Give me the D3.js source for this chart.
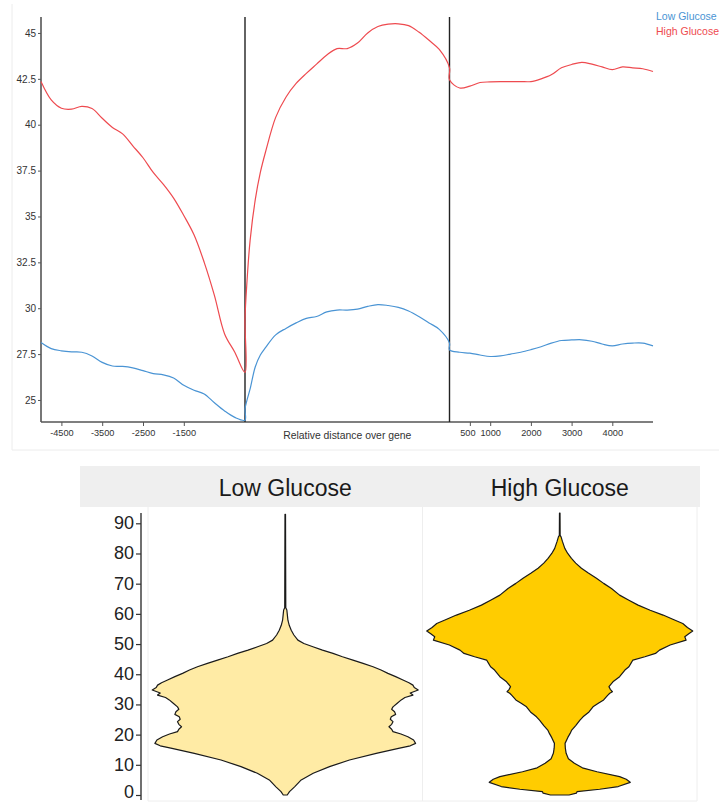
<!DOCTYPE html>
<html>
<head>
<meta charset="utf-8">
<script src="https://cdn.jsdelivr.net/npm/d3@7/dist/d3.min.js"></script>
<style>
  html, body { margin: 0; padding: 0; background: #fff; }
  svg { display: block; }
</style>
</head>
<body>
<svg id="chart" width="719" height="803"></svg>
<script>
// ---- Metagene profile (top) ----
const seriesNames = ["Low Glucose", "High Glucose"];
const seriesColors = ["#4a94d4", "#ee4a4f"];

const upstreamBp = [-5000, -4750, -4500, -4250, -4000, -3750, -3500, -3250, -3000, -2750,
  -2500, -2250, -2000, -1750, -1500, -1250, -1000, -750, -500, -250, 0];
const lowUpstream = [28.13, 27.8, 27.68, 27.62, 27.6, 27.4, 27.05, 26.85, 26.83, 26.75,
  26.6, 26.44, 26.37, 26.2, 25.8, 25.53, 25.33, 24.85, 24.4, 24.05, 23.9];
const highUpstream = [42.35, 41.35, 40.9, 40.85, 41.0, 40.88, 40.35, 39.85, 39.5, 38.85,
  38.2, 37.4, 36.75, 36.0, 35.05, 34.0, 32.5, 30.7, 28.6, 27.6, 26.5];

const bodyFraction = [0, 0.01, 0.025, 0.05, 0.075, 0.1, 0.15, 0.2, 0.25, 0.3, 0.35, 0.4,
  0.45, 0.5, 0.55, 0.6, 0.65, 0.7, 0.75, 0.8, 0.85, 0.9, 0.95, 1.0];
const lowBody = [24.5, 25.0, 25.6, 26.8, 27.45, 27.85, 28.55, 28.9, 29.2, 29.45, 29.55, 29.8,
  29.9, 29.9, 29.95, 30.1, 30.2, 30.15, 30.05, 29.85, 29.55, 29.2, 28.85, 28.1];
const highBody = [29.4, 31.5, 33.7, 35.9, 37.4, 38.5, 40.4, 41.5, 42.25, 42.8, 43.3, 43.8,
  44.15, 44.15, 44.45, 45.0, 45.35, 45.48, 45.5, 45.4, 45.05, 44.6, 44.1, 43.1];

const downstreamBp = [0, 250, 500, 750, 1000, 1250, 1500, 1750, 2000, 2250, 2500, 2750,
  3000, 3250, 3500, 3750, 4000, 4250, 4500, 4750, 5000];
const lowDownstream = [27.73, 27.6, 27.55, 27.45, 27.37, 27.4, 27.5, 27.6, 27.74, 27.9, 28.1,
  28.24, 28.27, 28.28, 28.2, 28.05, 27.95, 28.05, 28.1, 28.1, 27.95];
const highDownstream = [42.45, 42.0, 42.1, 42.3, 42.33, 42.35, 42.35, 42.35, 42.35, 42.5, 42.72,
  43.1, 43.28, 43.4, 43.3, 43.15, 43.0, 43.15, 43.1, 43.05, 42.9];

const profileYTicks = [25, 27.5, 30, 32.5, 35, 37.5, 40, 42.5, 45];
const upstreamTicks = [-4500, -3500, -2500, -1500];
const downstreamTicks = [500, 1000, 2000, 3000, 4000];
const geneBodyLabel = "Relative distance over gene";

// ---- Violin plot (bottom) ----
const groups = ["Low Glucose", "High Glucose"];
const groupFills = ["#ffeba5", "#ffcc00"];
const violinYTicks = [0, 10, 20, 30, 40, 50, 60, 70, 80, 90];

const lowLevels = [0, 1.1, 2.7, 5.0, 7.2, 9.4, 11.6, 13.8, 15.5, 16.3, 17.1, 18.2, 19.3, 20.2, 21.0,
  21.8, 22.6, 23.4, 24.3, 25.1, 25.9, 26.7, 27.6, 28.4, 29.2, 30.3, 31.5, 32.3, 33.1, 33.8, 34.8,
  35.6, 36.4, 37.2, 38.1, 39.2, 40.3, 41.4, 42.5, 43.6, 44.7, 45.8, 46.9, 48.0, 49.1, 50.2, 51.3,
  53.0, 54.6, 56.2, 57.9, 59.6, 61.3, 62.0, 93.0];
const lowDensity = [0.015, 0.032, 0.07, 0.12, 0.21, 0.333, 0.483, 0.684, 0.86, 0.94, 0.98, 0.965,
  0.922, 0.87, 0.81, 0.8, 0.78, 0.8, 0.81, 0.79, 0.797, 0.83, 0.822, 0.8, 0.81, 0.84, 0.872, 0.9,
  0.96, 0.94, 1.0, 0.97, 0.96, 0.93, 0.885, 0.83, 0.772, 0.72, 0.66, 0.585, 0.509, 0.43, 0.359,
  0.28, 0.208, 0.14, 0.095, 0.065, 0.045, 0.03, 0.02, 0.016, 0.012, 0.004, 0.002];

const highLevels = [0, 0.6, 1.1, 1.9, 2.8, 4.2, 5.2, 6.1, 7.7, 9.0, 10.5, 12.0, 13.8, 15.5, 17.1,
  19.0, 20.4, 21.5, 23.0, 24.8, 25.9, 27.5, 29.2, 30.4, 31.5, 33.0, 33.7, 34.2, 35.0, 35.9, 37.5,
  39.2, 40.3, 41.4, 42.5, 43.6, 44.7, 45.8, 46.9, 48.0, 49.7, 51.3, 52.4, 53.4, 54.3, 55.5, 56.8,
  58.2, 59.6, 61.2, 62.9, 64.5, 66.2, 68.4, 70.1, 71.8, 73.5, 75.1, 76.8, 78.4, 80.0, 81.7, 84.0,
  85.5, 86.0, 93.4];
const highDensity = [0.07, 0.125, 0.13, 0.3, 0.44, 0.53, 0.5, 0.45, 0.28, 0.17, 0.11, 0.065, 0.048,
  0.042, 0.04, 0.06, 0.078, 0.09, 0.12, 0.152, 0.175, 0.22, 0.25, 0.29, 0.33, 0.36, 0.376, 0.396,
  0.38, 0.37, 0.4, 0.45, 0.47, 0.49, 0.52, 0.535, 0.55, 0.64, 0.72, 0.75, 0.83, 0.95, 0.94, 0.97,
  1.0, 0.96, 0.925, 0.85, 0.777, 0.68, 0.589, 0.52, 0.45, 0.389, 0.33, 0.276, 0.215, 0.163, 0.12,
  0.088, 0.06, 0.038, 0.02, 0.01, 0.003, 0.002];

const svg = d3.select("#chart");
const txtFont = "'Liberation Sans', Arial, sans-serif";

// ================= Top: profile plot =================
const profileG = svg.append("g");

// faint frame around the profile plot
profileG.append("line").attr("x1", 12).attr("x2", 12).attr("y1", 4).attr("y2", 450)
  .attr("stroke", "#ececec").attr("stroke-width", 1);
profileG.append("line").attr("x1", 12).attr("x2", 719).attr("y1", 450).attr("y2", 450)
  .attr("stroke", "#ececec").attr("stroke-width", 1);

const yProfile = d3.scaleLinear().domain([23.8, 45.87]).range([422, 17]);
const xUp = d3.scaleLinear().domain([-5000, 0]).range([41, 245]);
const xBody = d3.scaleLinear().domain([0, 1]).range([245, 449.5]);
const xDown = d3.scaleLinear().domain([0, 5000]).range([449.5, 653]);

// y axis
const yAxis = profileG.append("g").attr("transform", "translate(41,0)")
  .call(d3.axisLeft(yProfile).tickValues(profileYTicks).tickSize(3).tickSizeOuter(0)
    .tickFormat(d => String(d)));
yAxis.select(".domain").remove();
yAxis.selectAll(".tick line").attr("stroke", "#555");
yAxis.selectAll(".tick text").attr("font-family", txtFont).attr("font-size", 10)
  .attr("fill", "#333").attr("x", -5);
profileG.append("line").attr("x1", 41).attr("x2", 41).attr("y1", 17).attr("y2", 422)
  .attr("stroke", "#555").attr("stroke-width", 1.6);

// x axes (upstream / downstream in bp)
function styleX(g) {
  g.select(".domain").remove();
  g.selectAll(".tick line").attr("stroke", "#555");
  g.selectAll(".tick text").attr("font-family", txtFont).attr("font-size", 9.2)
    .attr("fill", "#333").attr("dy", "0.9em").attr("y", 6);
}
profileG.append("g").attr("transform", "translate(0,422)")
  .call(d3.axisBottom(xUp).tickValues(upstreamTicks).tickSize(4).tickFormat(d => String(d)))
  .call(styleX);
const downAxis = profileG.append("g").attr("transform", "translate(0,422)")
  .call(d3.axisBottom(xDown).tickValues(downstreamTicks).tickSize(4).tickFormat(d => String(d)))
  .call(styleX);
// the first downstream label sits a little left of its tick
downAxis.selectAll(".tick text").filter(d => d === 500).attr("dx", -2.5);
profileG.append("line").attr("x1", 41).attr("x2", 653).attr("y1", 422).attr("y2", 422)
  .attr("stroke", "#555").attr("stroke-width", 1.6);
profileG.append("text").attr("x", (xBody(0) + xBody(1)) / 2).attr("y", 439)
  .attr("text-anchor", "middle").attr("font-family", txtFont).attr("font-size", 10.4)
  .attr("fill", "#333").text(geneBodyLabel);

// TSS / TES boundaries
[xBody(0), xBody(1)].forEach(x => {
  profileG.append("line").attr("x1", x).attr("x2", x).attr("y1", 17).attr("y2", 422)
    .attr("stroke", "#222").attr("stroke-width", 1.4);
});

// profile lines
function profilePoints(up, body, down) {
  const pts = [];
  upstreamBp.forEach((b, i) => pts.push([xUp(b), yProfile(up[i])]));
  bodyFraction.forEach((f, i) => pts.push([xBody(f), yProfile(body[i])]));
  downstreamBp.forEach((b, i) => pts.push([xDown(b), yProfile(down[i])]));
  return pts;
}
const line = d3.line().curve(d3.curveCatmullRom.alpha(0.5));
const seriesData = [
  profilePoints(lowUpstream, lowBody, lowDownstream),
  profilePoints(highUpstream, highBody, highDownstream)
];
seriesData.forEach((pts, i) => {
  profileG.append("path").attr("d", line(pts)).attr("fill", "none")
    .attr("stroke", seriesColors[i]).attr("stroke-width", 1.2);
});

// legend
seriesNames.forEach((n, i) => {
  profileG.append("text").attr("x", 656).attr("y", 20 + i * 15)
    .attr("font-family", txtFont).attr("font-size", 10.5)
    .attr("fill", seriesColors[i]).text(n);
});

// ================= Bottom: violin plot =================
const violinG = svg.append("g");
const panelTop = 507, panelBottom = 801;
const xBand = d3.scaleBand().domain(groups).range([148, 697]);
const yViolin = d3.scaleLinear().domain([0, 90]).range([795, 523.3]);
const halfWidth = d3.scaleLinear().domain([0, 1]).range([0, 133]);

// strip
violinG.append("rect").attr("x", 80).attr("y", 466).attr("width", 620).attr("height", panelTop - 466)
  .attr("fill", "#efefef");
groups.forEach(g => {
  violinG.append("text").attr("x", xBand(g) + xBand.bandwidth() / 2).attr("y", 496)
    .attr("text-anchor", "middle").attr("font-family", txtFont).attr("font-size", 23)
    .attr("fill", "#1a1a1a").text(g);
});

// panel borders
[xBand.range()[0], xBand(groups[1]), xBand.range()[1]].forEach(x => {
  violinG.append("line").attr("x1", x).attr("x2", x).attr("y1", panelTop).attr("y2", panelBottom)
    .attr("stroke", "#eeeeee").attr("stroke-width", 1);
});
violinG.append("line").attr("x1", 148).attr("x2", 697).attr("y1", panelBottom).attr("y2", panelBottom)
  .attr("stroke", "#eeeeee").attr("stroke-width", 1);

// violins
const violinSets = [
  { levels: lowLevels, dens: lowDensity },
  { levels: highLevels, dens: highDensity }
];
groups.forEach((g, i) => {
  const cx = xBand(g) + xBand.bandwidth() / 2;
  const pts = violinSets[i].levels.map((v, j) => ({ v, d: violinSets[i].dens[j] }));
  const area = d3.area()
    .y(d => yViolin(d.v))
    .x0(d => cx - halfWidth(d.d))
    .x1(d => cx + halfWidth(d.d));
  violinG.append("path").attr("d", area(pts) + "Z")
    .attr("fill", groupFills[i]).attr("stroke", "#1a1a1a").attr("stroke-width", 1.2)
    .attr("stroke-linejoin", "round");
});

// y axis
const vAxis = violinG.append("g").attr("transform", "translate(141,0)")
  .call(d3.axisLeft(yViolin).tickValues(violinYTicks).tickSize(5).tickSizeOuter(0));
vAxis.select(".domain").remove();
vAxis.selectAll(".tick line").attr("stroke", "#333").attr("stroke-width", 1.2);
vAxis.selectAll(".tick text").attr("font-family", txtFont).attr("font-size", 18)
  .attr("fill", "#222").attr("x", -7).attr("dy", "0.3em");
// keep the bottom label inside the page
vAxis.selectAll(".tick text").filter(d => d === 0).attr("dy", "0.16em");
violinG.append("line").attr("x1", 141).attr("x2", 141).attr("y1", 513).attr("y2", 800)
  .attr("stroke", "#333").attr("stroke-width", 1.4);
</script>
</body>
</html>
